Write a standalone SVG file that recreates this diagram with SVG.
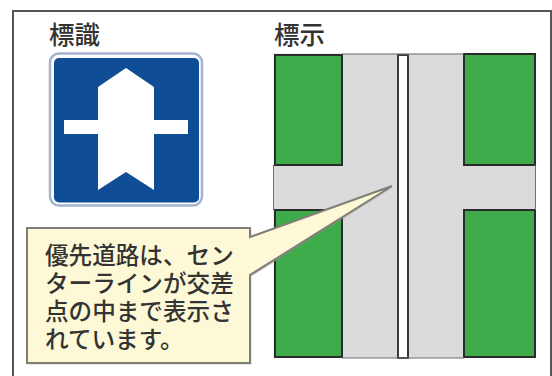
<svg xmlns="http://www.w3.org/2000/svg" width="552" height="376" viewBox="0 0 552 376">
<style>
text{font-family:"Noto Sans CJK JP","Liberation Sans",sans-serif;font-weight:500;fill:#333}
.t{font-size:25.5px}
.c{font-size:23.6px}
.g{fill:#3dab4a;stroke:#2b2b2b;stroke-width:2}
</style>
<rect width="552" height="376" fill="#fff"/>
<path id="frame" d="M13 376V11H551V376" fill="none" stroke="#555" stroke-width="2"/>
<text class="t" x="49" y="44">標識</text>
<text class="t" x="274" y="44">標示</text>
<g id="sign">
<rect x="50" y="53.5" width="152" height="152" rx="9" fill="#fff" stroke="#a3b3d0" stroke-width="2.5"/>
<rect x="54" y="58" width="145" height="144.500" rx="5" fill="#0f4e96"/>
<path d="M126 68L154 87V120H188V134H154V190L126 172L98 190V134H64V120H98V87Z" fill="#fff"/>
</g>
<g id="road">
<rect x="273.500" y="53.500" width="262.500" height="304.500" fill="#dbdbdd"/>
<rect class="g" x="275" y="55" width="67" height="110"/>
<rect class="g" x="464" y="54" width="71" height="111"/>
<rect class="g" x="275" y="210" width="67" height="147"/>
<rect class="g" x="464" y="210" width="71" height="147"/>
<rect x="398" y="55" width="10" height="303" fill="#fff" stroke="#3a3a3a" stroke-width="2"/>
<path d="M273.500 165V210M535.500 165V210M342 358H464M342 54H464" fill="none" stroke="#6f6f6f" stroke-width="1"/>
</g>
<g id="callout">
<path d="M28.500 229.500H251.500V238.500L393 187.500L251.500 276.500V364.500H28.500Z" fill="#9a9a92" opacity=".45"/>
<path d="M27 228H250V237L392 186L250 275V363H27Z" fill="#fdf9d6" stroke="#7f7f78" stroke-width="2"/>
<text class="c" x="45" y="264">優先道路は、セン</text>
<text class="c" x="45" y="292">ターラインが交差</text>
<text class="c" x="45" y="320">点の中まで表示さ</text>
<text class="c" x="45" y="348">れています。</text>
</g>
</svg>
